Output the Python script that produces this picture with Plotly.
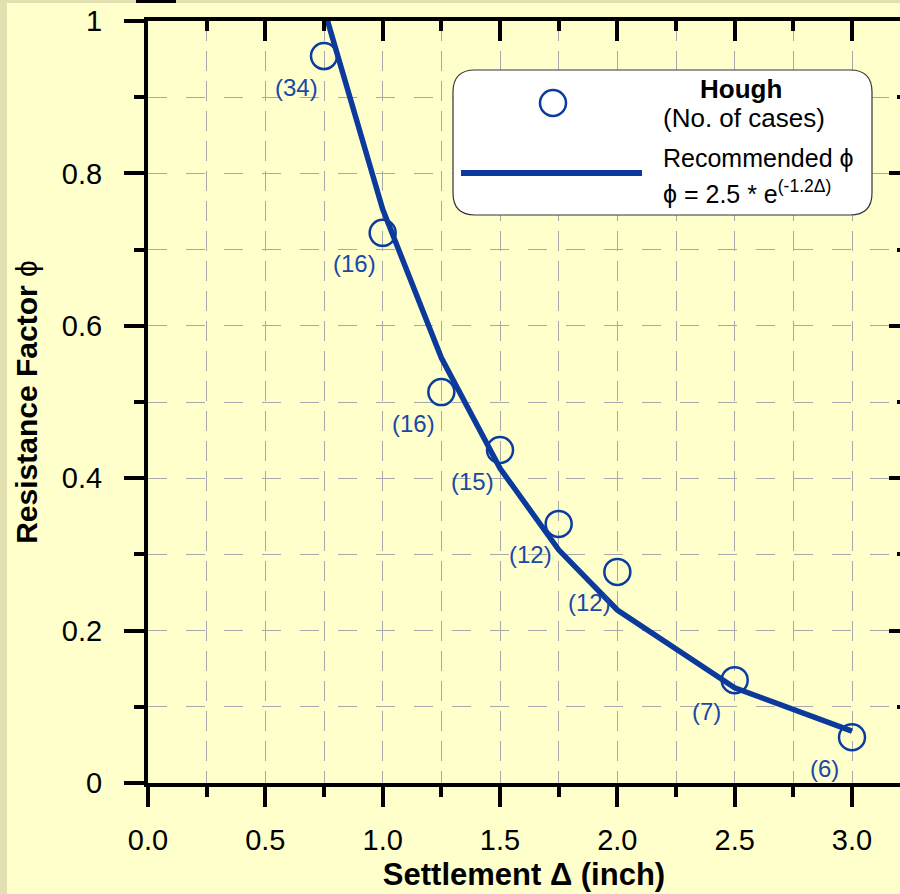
import plotly.graph_objects as go

# ---- data ----
settlement = [0.75, 1.0, 1.25, 1.5, 1.75, 2.0, 2.5, 3.0]
phi_hough = [0.954, 0.722, 0.513, 0.437, 0.340, 0.277, 0.135, 0.060]
n_cases = [34, 16, 16, 15, 12, 12, 7, 6]

curve_x = [0.75, 1.0, 1.25, 1.5, 1.75, 2.0, 2.5, 3.0]
curve_y = [1.016, 0.753, 0.558, 0.413, 0.306, 0.227, 0.125, 0.068]

x_ticks = [0.0, 0.5, 1.0, 1.5, 2.0, 2.5, 3.0]

# ---- styling ----
W, H = 900, 894
ML, MR, MT, MB = 148, 0, 21, 111
BG = "#FFFFCC"
STRIPE = "#E2DFB0"
BLUE_LINE = "#0B3A9C"
BLUE_MK = "#0A3CA0"
BLUE_TXT = "#1A48A8"
GRID = "#A8A8A8"
FONT = "Liberation Sans, Arial, sans-serif"
PHI = "ϕ"

PW = W - ML - MR
PH = H - MT - MB


def px(xp):
    return (xp - ML) / PW


def py(yp):
    return (H - MB - yp) / PH


fig = go.Figure()

# invisible trace to instantiate mirrored axes
fig.add_trace(go.Scatter(x=[None], y=[None], xaxis="x2", yaxis="y2",
                         showlegend=False, hoverinfo="skip"))

fig.add_trace(go.Scatter(
    x=settlement, y=phi_hough, mode="markers", name="Hough",
    marker=dict(symbol="circle-open", size=26, color=BLUE_MK,
                line=dict(width=2.5, color=BLUE_MK)),
    showlegend=False, cliponaxis=False))

fig.add_trace(go.Scatter(
    x=curve_x, y=curve_y, mode="lines", name="Recommended " + PHI,
    line=dict(color=BLUE_LINE, width=5.5), showlegend=False))

annotations = []
for xv, yv, n in zip(settlement, phi_hough, n_cases):
    annotations.append(dict(
        x=xv, y=yv, xref="x", yref="y", text=f"({n})", showarrow=False,
        xshift=-28, yshift=-31, font=dict(family=FONT, size=24, color=BLUE_TXT)))

# legend texts
annotations += [
    dict(x=px(741), y=py(89), xref="paper", yref="paper", text="<b>Hough</b>",
         showarrow=False, xanchor="center", yanchor="middle",
         font=dict(family=FONT, size=26, color="black")),
    dict(x=px(661), y=py(118), xref="paper", yref="paper", text="(No. of cases)",
         showarrow=False, xanchor="left", yanchor="middle",
         font=dict(family=FONT, size=26, color="black")),
    dict(x=px(661), y=py(158), xref="paper", yref="paper", text="Recommended " + PHI,
         showarrow=False, xanchor="left", yanchor="middle",
         font=dict(family=FONT, size=25, color="black")),
    dict(x=px(661), y=py(192), xref="paper", yref="paper",
         text=PHI + " = 2.5 * e<sup>(-1.2Δ)</sup>",
         showarrow=False, xanchor="left", yanchor="middle",
         font=dict(family=FONT, size=25, color="black")),
]

# rounded legend box path
bx0, bx1, by0, by1, r = 453, 872, 70, 215, 22
rx, ry = r / PW, r / PH
X0, X1, Y0, Y1 = px(bx0), px(bx1), py(by1), py(by0)
path = (f"M{X0+rx},{Y1} L{X1-rx},{Y1} Q{X1},{Y1} {X1},{Y1-ry} "
        f"L{X1},{Y0+ry} Q{X1},{Y0} {X1-rx},{Y0} L{X0+rx},{Y0} "
        f"Q{X0},{Y0} {X0},{Y0+ry} L{X0},{Y1-ry} Q{X0},{Y1} {X0+rx},{Y1} Z")

shapes = [
    # outer stripes
    dict(type="rect", xref="paper", yref="paper", x0=px(0), x1=px(7), y0=py(H), y1=py(0),
         fillcolor=STRIPE, line=dict(width=0), layer="below"),
    dict(type="rect", xref="paper", yref="paper", x0=px(0), x1=px(W), y0=py(3), y1=py(0),
         fillcolor=STRIPE, line=dict(width=0), layer="below"),
    dict(type="rect", xref="paper", yref="paper", x0=px(136), x1=px(176), y0=py(3), y1=py(0),
         fillcolor="black", line=dict(width=0), layer="above"),
    # legend box
    dict(type="path", xref="paper", yref="paper", path=path,
         fillcolor="white", line=dict(color="#333333", width=1.2), layer="above"),
    dict(type="circle", xref="paper", yref="paper",
         x0=px(553 - 13), x1=px(553 + 13), y0=py(103 + 13), y1=py(103 - 13),
         line=dict(color=BLUE_MK, width=2.5), layer="above"),
    dict(type="line", xref="paper", yref="paper",
         x0=px(461), x1=px(642), y0=py(173), y1=py(173),
         line=dict(color=BLUE_LINE, width=6), layer="above"),
]

xr = [0, PW / 234.67]

fig.update_layout(
    width=W, height=H, autosize=False,
    margin=dict(l=ML, r=MR, t=MT, b=MB, pad=0),
    paper_bgcolor=BG, plot_bgcolor=BG,
    font=dict(family=FONT, color="black"),
    showlegend=False,
    shapes=shapes, annotations=annotations,
    xaxis=dict(
        range=xr, domain=[0, 1], tickmode="array", tickvals=x_ticks,
        tickformat=".1f", ticks="outside", ticklen=20, tickwidth=4, tickcolor="black",
        ticklabelstandoff=8,
        showline=True, linecolor="black", linewidth=4, zeroline=False,
        showgrid=True, gridcolor=GRID, gridwidth=1, griddash="20px,10px",
        tickfont=dict(size=29, family=FONT),
        minor=dict(dtick=0.25, tick0=0, ticks="outside", ticklen=10, tickwidth=4,
                   tickcolor="black", showgrid=True, gridcolor=GRID, gridwidth=1,
                   griddash="20px,10px"),
        title=dict(text="<b>Settlement Δ (inch)</b>", font=dict(size=31, family=FONT),
                   standoff=10),
    ),
    yaxis=dict(
        range=[0, 1], domain=[0, 1], dtick=0.2, tick0=0,
        ticks="outside", ticklen=20, tickwidth=4, tickcolor="black",
        ticklabelstandoff=16,
        showline=True, linecolor="black", linewidth=4, zeroline=False,
        showgrid=True, gridcolor=GRID, gridwidth=1, griddash="19px,19px",
        tickfont=dict(size=29, family=FONT),
        minor=dict(dtick=0.1, tick0=0, ticks="outside", ticklen=10, tickwidth=4,
                   tickcolor="black", showgrid=True, gridcolor=GRID, gridwidth=1,
                   griddash="19px,19px"),
        title=dict(text="<b>Resistance Factor</b> " + PHI, font=dict(size=30, family=FONT),
                   standoff=16),
    ),
    xaxis2=dict(
        overlaying="x", side="top", anchor="y", range=xr, tickmode="array",
        tickvals=x_ticks, ticks="inside", ticklen=20, tickwidth=4, tickcolor="black",
        showticklabels=False, showline=True, linecolor="black", linewidth=4,
        showgrid=False, zeroline=False,
        minor=dict(dtick=0.25, tick0=0, ticks="inside", ticklen=10, tickwidth=4,
                   tickcolor="black", showgrid=False),
    ),
    yaxis2=dict(
        overlaying="y", side="right", anchor="x", range=[0, 1], dtick=0.2, tick0=0,
        ticks="inside", ticklen=11, tickwidth=4, tickcolor="black",
        showticklabels=False, showline=False, showgrid=False, zeroline=False,
        minor=dict(dtick=0.1, tick0=0, ticks="inside", ticklen=3, tickwidth=4,
                   tickcolor="black", showgrid=False),
    ),
)

fig.write_html("out.html")
